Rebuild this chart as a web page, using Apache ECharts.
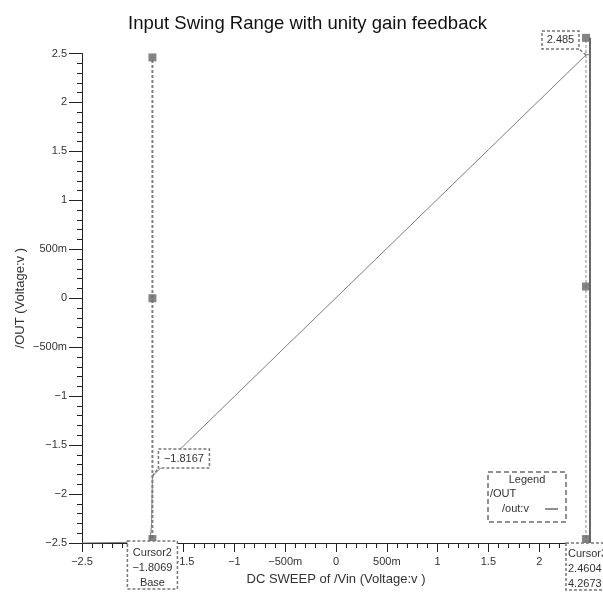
<!DOCTYPE html>
<html>
<head>
<meta charset="utf-8">
<script src="https://cdn.jsdelivr.net/npm/echarts@6/dist/echarts.min.js"></script>
<style>
html, body { margin: 0; padding: 0; background: #fff; }
#chart { width: 603px; height: 594px; }
</style>
</head>
<body>
<div id="chart"></div>
<script>
// Tick values and their printed labels (engineering notation for ±0.5)
const tickValues = [-2.5, -2, -1.5, -1, -0.5, 0, 0.5, 1, 1.5, 2, 2.5];
const tickLabels = ['−2.5', '−2', '−1.5', '−1', '−500m', '0', '500m', '1', '1.5', '2', '2.5'];

// DC sweep of /Vin and the resulting /OUT (V)
const vinValues = [-2.5, -1.83, -1.815, -1.81, -1.8069, -1.5, -1.0, -0.5, 0, 0.5, 1.0, 1.5, 2.0, 2.4604, 2.5];
const outValues = [-2.5, -2.49, -2.3, -2.0, -1.8167, -1.507, -1.003, -0.498, 0.005, 0.509, 1.013, 1.517, 2.021, 2.485, 2.49];

// Axis titles
const xAxisTitle = 'DC SWEEP of /Vin (Voltage:v )';
const yAxisTitle = '/OUT (Voltage:v )';

// Cursors: x position, marker heights, read-outs
const cursor2X = -1.8069;
const cursor2Marks = [2.46, 0, -2.46];
const cursor3X = 2.4604;
const cursor3Marks = [2.66, 0.12, -2.46];
const cursorDelta = 4.2673;
const calloutLowY = -1.8167;
const calloutHighY = 2.485;

const FONT = '"Liberation Sans", Arial, sans-serif';
const fmt = v => {
  const i = tickValues.findIndex(t => Math.abs(t - v) < 1e-9);
  return i >= 0 ? tickLabels[i] : '';
};
const fmtNum = v => (v < 0 ? '−' : '') + Math.abs(v).toString();

const chart = echarts.init(document.getElementById('chart'), null, { renderer: 'canvas' });

const axisCommon = {
  type: 'value',
  min: -2.5,
  max: 2.5,
  interval: 0.5,
  splitLine: { show: false },
  axisLine: { show: true, onZero: false, lineStyle: { color: '#222', width: 1 } },
  minorTick: { show: true, splitNumber: 5, length: 5, lineStyle: { color: '#222', width: 1 } },
  axisLabel: { formatter: fmt, color: '#333', fontFamily: FONT, fontSize: 11 }
};

chart.setOption({
  animation: false,
  backgroundColor: '#fff',
  title: {
    text: 'Input Swing Range with unity gain feedback',
    left: 123,
    top: 9,
    textStyle: { color: '#111', fontFamily: FONT, fontSize: 18.5, fontWeight: 'normal' }
  },
  grid: { left: 82, right: 13, top: 53.5, bottom: 51, containLabel: false, outerBoundsMode: 'none' },
  xAxis: Object.assign({}, axisCommon, {
    axisTick: { show: true, length: 9, lineStyle: { color: '#222' } },
    axisLabel: Object.assign({}, axisCommon.axisLabel, { margin: 13 })
  }),
  yAxis: Object.assign({}, axisCommon, {
    axisTick: { show: true, length: 13, lineStyle: { color: '#222' } },
    axisLabel: Object.assign({}, axisCommon.axisLabel, { margin: 15 })
  }),
  series: [
    {
      name: '/out:v',
      type: 'line',
      data: vinValues.map((x, i) => [x, outValues[i]]),
      symbol: 'none',
      lineStyle: { color: '#7c7c7c', width: 1 },
      z: 3
    },
    {
      name: 'Cursor2',
      type: 'line',
      data: [[cursor2X, -2.5], [cursor2X, cursor2Marks[0]]],
      symbol: 'none',
      clip: false,
      lineStyle: { color: '#808080', width: 2, type: [3, 2] },
      z: 2
    },
    {
      name: 'Cursor3',
      type: 'line',
      data: [[cursor3X, -2.5], [cursor3X, cursor3Marks[0]]],
      symbol: 'none',
      clip: false,
      lineStyle: { color: '#888', width: 1, type: [3, 2] },
      z: 2
    },
    {
      name: 'edge',
      type: 'line',
      data: [[2.5, -2.5], [2.5, cursor3Marks[0]]],
      symbol: 'none',
      clip: false,
      lineStyle: { color: '#000', width: 1.2 },
      z: 2
    },
    {
      name: 'markers',
      type: 'scatter',
      clip: false,
      symbol: 'rect',
      symbolSize: 8,
      itemStyle: { color: '#666' },
      data: cursor2Marks.map(y => [cursor2X, y]).concat(cursor3Marks.map(y => [cursor3X, y])),
      z: 4
    }
  ]
});

// Annotation overlays placed through the grid's coordinate system
const px = (x, y) => chart.convertToPixel({ gridIndex: 0 }, [x, y]);
const txt = (text, x, y, align, extra) => ({
  type: 'text',
  z: 20,
  style: Object.assign({
    text, x, y,
    fill: '#333',
    font: '11px ' + FONT,
    align: align || 'center',
    verticalAlign: 'middle',
    textAlign: align || 'center',
    textVerticalAlign: 'middle'
  }, extra || {})
});
const dashBox = (x, y, w, h, stroke, dash, lw) => ({
  type: 'rect',
  z: 19,
  shape: { x, y, width: w, height: h },
  style: { fill: '#fff', stroke: stroke || '#777', lineWidth: lw || 1.5, lineDash: dash || [3, 2] }
});
const dashLine = (x1, y1, x2, y2) => ({
  type: 'line',
  z: 19,
  shape: { x1, y1, x2, y2 },
  style: { stroke: '#777', lineWidth: 1.5, lineDash: [3, 2] }
});

const c2b = px(cursor2X, -2.5);
const c3b = px(cursor3X, -2.5);
const lowPt = px(cursor2X, calloutLowY);
const highPt = px(cursor3X, calloutHighY);
const mid = px(0, 0);

const graphics = [
  // Axis titles
  txt(xAxisTitle, mid[0], 579, 'center', { font: '13px ' + FONT }),
  {
    type: 'text', z: 20,
    x: 20, y: mid[1], rotation: Math.PI / 2,
    style: {
      text: yAxisTitle, x: 0, y: 0, fill: '#333', font: '13px ' + FONT,
      align: 'center', verticalAlign: 'middle', textAlign: 'center', textVerticalAlign: 'middle'
    }
  },
  // Cursor2 read-out
  dashBox(c2b[0] - 25, c2b[1] - 2, 50, 48),
  txt('Cursor2', c2b[0], c2b[1] + 10),
  txt(fmtNum(cursor2X), c2b[0], c2b[1] + 25),
  txt('Base', c2b[0], c2b[1] + 40),
  // Cursor3 read-out
  dashBox(c3b[0] - 20, c3b[1], 52, 47),
  txt('Cursor3', c3b[0] - 18, c3b[1] + 11, 'left'),
  txt(fmtNum(cursor3X), c3b[0] - 18, c3b[1] + 26, 'left'),
  txt(fmtNum(cursorDelta), c3b[0] - 18, c3b[1] + 41, 'left'),
  // y read-out at cursor2
  dashLine(lowPt[0], lowPt[1], lowPt[0] + 6, lowPt[1] - 8),
  dashBox(lowPt[0] + 6, lowPt[1] - 27, 51, 19),
  txt(fmtNum(calloutLowY), lowPt[0] + 31.5, lowPt[1] - 17),
  // y read-out at cursor3
  dashLine(highPt[0], highPt[1], highPt[0] - 7, highPt[1] - 6),
  dashBox(highPt[0] - 44, highPt[1] - 24, 37, 18),
  txt(fmtNum(calloutHighY), highPt[0] - 25.5, highPt[1] - 15),
  // Legend
  {
    type: 'rect', z: 19,
    shape: { x: 488, y: 472, width: 78, height: 50 },
    style: { fill: '#fff', stroke: '#222', lineWidth: 1, lineDash: [5, 3] }
  },
  txt('Legend', 527, 480),
  txt('/OUT', 490, 494, 'left'),
  txt('/out:v', 502, 509, 'left'),
  { type: 'line', z: 20, shape: { x1: 545, y1: 509, x2: 558, y2: 509 }, style: { stroke: '#222', lineWidth: 1 } }
];

chart.setOption({ graphic: graphics });
</script>
</body>
</html>
